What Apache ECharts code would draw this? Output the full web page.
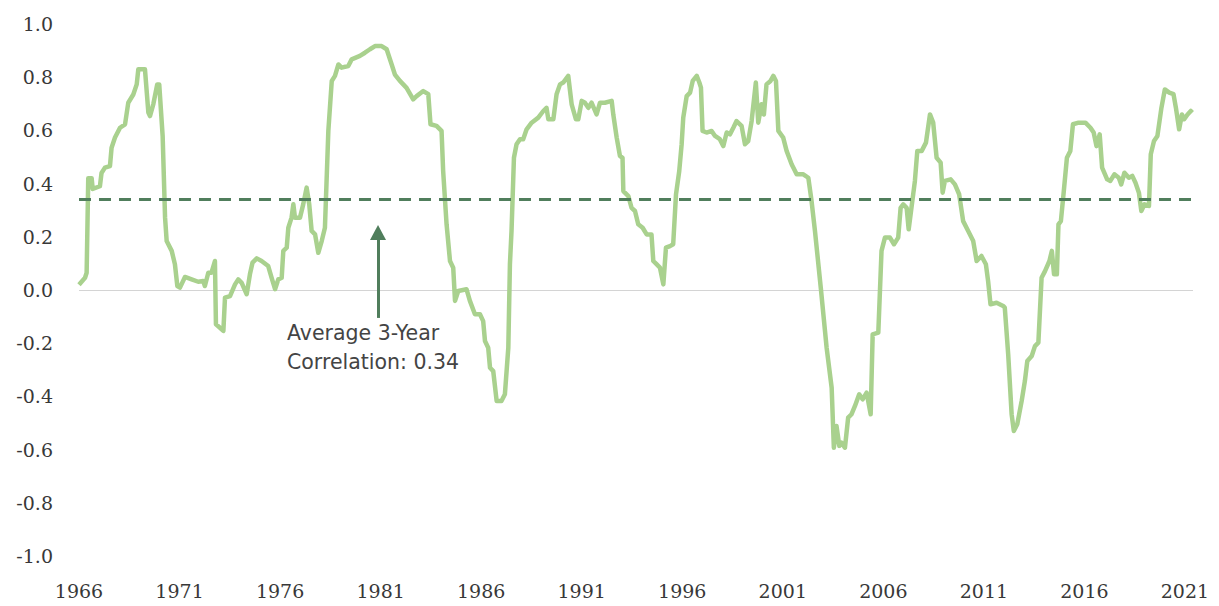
<!DOCTYPE html>
<html><head><meta charset="utf-8">
<script src="https://cdn.jsdelivr.net/npm/echarts@6/dist/echarts.min.js"></script>
<style>
html,body{margin:0;padding:0;background:#fff}
#chart{width:1219px;height:606px}
</style></head><body><div id="chart"></div>
<script>
// Rolling 3-year correlation
const years = [
1966.00,1966.30,1966.38,1966.46,1966.63,1966.68,1967.04,1967.12,1967.29,1967.54,1967.62,1967.79,1968.04,1968.29,1968.45,1968.70,1968.87,1968.95,1969.28,1969.45,
1969.53,1969.70,1969.89,1969.99,1970.16,1970.28,1970.36,1970.61,1970.77,1970.89,1971.02,1971.27,1971.60,1971.93,1972.18,1972.26,1972.43,1972.59,1972.76,1972.81,
1973.01,1973.18,1973.26,1973.51,1973.76,1973.92,1974.09,1974.34,1974.50,1974.63,1974.84,1975.08,1975.41,1975.58,1975.75,1975.91,1976.08,1976.16,1976.33,1976.41,
1976.57,1976.66,1976.74,1976.99,1977.15,1977.32,1977.45,1977.57,1977.74,1977.90,1978.07,1978.23,1978.40,1978.57,1978.73,1978.90,1979.06,1979.39,1979.56,1979.97,
1980.22,1980.47,1980.72,1981.05,1981.30,1981.55,1981.71,1981.96,1982.29,1982.62,1982.79,1983.12,1983.37,1983.48,1983.78,1984.03,1984.11,1984.28,1984.45,1984.61,
1984.70,1984.86,1985.27,1985.44,1985.69,1985.94,1986.10,1986.19,1986.35,1986.44,1986.60,1986.77,1987.01,1987.18,1987.35,1987.43,1987.51,1987.63,1987.76,1987.93,
1988.09,1988.26,1988.51,1988.84,1989.09,1989.25,1989.34,1989.59,1989.75,1989.92,1990.08,1990.33,1990.50,1990.71,1990.83,1991.00,1991.16,1991.33,1991.49,1991.74,
1991.91,1992.15,1992.49,1992.57,1992.74,1992.90,1993.03,1993.07,1993.32,1993.48,1993.65,1993.81,1994.03,1994.23,1994.47,1994.56,1994.72,1994.89,1995.06,1995.19,
1995.39,1995.55,1995.69,1995.85,1995.97,1996.05,1996.22,1996.39,1996.52,1996.72,1996.85,1996.93,1997.01,1997.21,1997.46,1997.63,1997.87,1998.04,1998.21,1998.37,
1998.54,1998.70,1998.95,1999.12,1999.28,1999.45,1999.66,1999.78,1999.94,2000.06,2000.19,2000.39,2000.53,2000.66,2000.78,2001.02,2001.19,2001.44,2001.69,2002.02,
2002.27,2002.43,2002.60,2002.90,2003.18,2003.43,2003.54,2003.67,2003.81,2003.92,2004.09,2004.25,2004.42,2004.59,2004.80,2004.97,2005.17,2005.37,2005.47,2005.75,
2005.91,2006.08,2006.33,2006.53,2006.74,2006.86,2006.99,2007.16,2007.26,2007.41,2007.57,2007.69,2007.91,2008.12,2008.32,2008.48,2008.65,2008.85,2008.95,2009.06,
2009.35,2009.56,2009.77,2009.97,2010.22,2010.47,2010.64,2010.88,2011.10,2011.21,2011.33,2011.63,2011.96,2012.04,2012.21,2012.38,2012.49,2012.66,2012.88,2013.04,
2013.16,2013.38,2013.54,2013.71,2013.87,2014.04,2014.26,2014.38,2014.49,2014.63,2014.71,2014.83,2014.96,2015.13,2015.30,2015.43,2015.71,2016.05,2016.30,2016.46,
2016.60,2016.76,2016.88,2017.13,2017.29,2017.49,2017.71,2017.83,2017.99,2018.21,2018.38,2018.54,2018.71,2018.83,2018.99,2019.21,2019.30,2019.46,2019.63,2019.83,
2020.00,2020.22,2020.43,2020.55,2020.71,2020.85,2020.96,2021.13,2021.29,2021.37
];
const corr = [
0.020,0.046,0.065,0.420,0.420,0.380,0.390,0.440,0.460,0.466,0.535,0.573,0.610,0.623,0.704,0.735,0.773,0.830,0.830,0.667,
0.654,0.700,0.773,0.773,0.579,0.272,0.184,0.147,0.097,0.015,0.009,0.049,0.040,0.031,0.034,0.015,0.065,0.065,0.109,-0.129,
-0.142,-0.154,-0.029,-0.023,0.021,0.040,0.027,-0.016,0.059,0.103,0.119,0.109,0.090,0.046,0.003,0.040,0.046,0.147,0.159,0.234,
0.272,0.322,0.272,0.272,0.322,0.385,0.322,0.222,0.209,0.140,0.184,0.234,0.598,0.786,0.805,0.848,0.836,0.842,0.867,0.880,
0.892,0.905,0.917,0.917,0.905,0.848,0.810,0.786,0.760,0.717,0.729,0.748,0.736,0.623,0.617,0.598,0.447,0.247,0.109,0.084,
-0.041,-0.004,0.003,-0.041,-0.091,-0.091,-0.117,-0.192,-0.217,-0.292,-0.305,-0.417,-0.417,-0.392,-0.217,0.097,0.222,0.497,0.548,0.567,
0.567,0.604,0.629,0.648,0.673,0.685,0.642,0.642,0.736,0.773,0.780,0.805,0.698,0.642,0.642,0.711,0.704,0.685,0.704,0.660,
0.704,0.704,0.711,0.660,0.573,0.504,0.497,0.372,0.353,0.309,0.297,0.247,0.234,0.209,0.209,0.109,0.097,0.084,0.021,0.159,
0.165,0.172,0.360,0.447,0.548,0.648,0.729,0.742,0.786,0.805,0.780,0.761,0.598,0.592,0.598,0.579,0.567,0.541,0.592,0.585,
0.610,0.635,0.617,0.548,0.560,0.635,0.780,0.629,0.698,0.660,0.773,0.786,0.805,0.786,0.598,0.573,0.523,0.473,0.435,0.435,
0.422,0.335,0.222,0.000,-0.217,-0.367,-0.593,-0.511,-0.586,-0.574,-0.593,-0.480,-0.467,-0.436,-0.392,-0.411,-0.386,-0.467,-0.167,-0.160,
0.147,0.197,0.197,0.172,0.197,0.309,0.322,0.309,0.228,0.316,0.410,0.523,0.523,0.554,0.660,0.629,0.497,0.479,0.366,0.410,
0.416,0.397,0.360,0.259,0.222,0.184,0.109,0.128,0.097,0.034,-0.054,-0.048,-0.060,-0.066,-0.242,-0.467,-0.530,-0.505,-0.417,-0.342,
-0.267,-0.248,-0.211,-0.198,0.046,0.071,0.109,0.147,0.059,0.059,0.247,0.259,0.360,0.497,0.523,0.623,0.629,0.629,0.610,0.592,
0.541,0.585,0.460,0.416,0.410,0.435,0.422,0.397,0.441,0.422,0.429,0.403,0.366,0.297,0.322,0.316,0.510,0.560,0.579,0.685,
0.754,0.742,0.736,0.685,0.604,0.660,0.642,0.660,0.673,0.667
];
const xTicks = [1966,1971,1976,1981,1986,1991,1996,2001,2006,2011,2016,2021];
const yMin = -1, yMax = 1, yStep = 0.2;
const xMin = 1966, xMax = 2021.4;
const avgCorr = 0.34;
const annoYear = 1980.87, annoFrom = -0.105, annoTo = 0.216;
const annoText = 'Average 3-Year\nCorrelation: 0.34';

const lineData = years.map((y, i) => [y, corr[i]]);
const nTicks = Math.round((yMax - yMin) / yStep) + 1;
const splitColors = [];
for (let i = 0; i < nTicks; i++) {
  const v = yMin + i * yStep;
  splitColors.push(Math.abs(v) < 1e-9 ? '#d4d4d4' : 'rgba(0,0,0,0)');
}

const chart = echarts.init(document.getElementById('chart'), null, {renderer: 'svg'});
const labelFont = {fontFamily: '"DejaVu Serif"', fontSize: 19, color: '#383838'};
chart.setOption({
  animation: false,
  backgroundColor: '#ffffff',
  grid: {left: 79, right: 26, top: 24, bottom: 50, outerBoundsMode: 'none'},
  xAxis: {
    type: 'value', min: xMin, max: xMax,
    axisLine: {show: false}, axisTick: {show: false}, splitLine: {show: false},
    axisLabel: Object.assign({customValues: xTicks, margin: 25, formatter: v => String(v)}, labelFont)
  },
  yAxis: {
    type: 'value', min: yMin, max: yMax, interval: yStep,
    axisLine: {show: false}, axisTick: {show: false},
    splitLine: {show: true, lineStyle: {color: splitColors, width: 1}},
    axisLabel: Object.assign({margin: 26, formatter: v => v.toFixed(1)}, labelFont)
  },
  series: [{
    type: 'line', data: lineData, showSymbol: false, symbol: 'none',
    lineStyle: {color: '#a9d18e', width: 4.5, join: 'round'},
    z: 2,
    markLine: {
      silent: true, symbol: 'none', animation: false,
      label: {show: false},
      data: [
        {yAxis: avgCorr, lineStyle: {color: '#507e5c', width: 3, type: [12, 8]}},
        [
          {coord: [annoYear, annoFrom], symbol: 'none', lineStyle: {color: '#507e5c', width: 3, type: 'solid'}},
          {coord: [annoYear, annoTo], symbol: 'triangle', symbolSize: [16, 15]}
        ]
      ]
    },
    markPoint: {
      silent: true, animation: false,
      data: [{
        coord: [annoYear, annoFrom], symbol: 'circle', symbolSize: 0,
        label: {
          show: true, position: 'inside', formatter: annoText,
          align: 'left', verticalAlign: 'top', offset: [-91, 1],
          fontFamily: '"DejaVu Sans"', fontSize: 20.5, lineHeight: 29, color: '#444444'
        }
      }]
    }
  }]
});
</script></body></html>
